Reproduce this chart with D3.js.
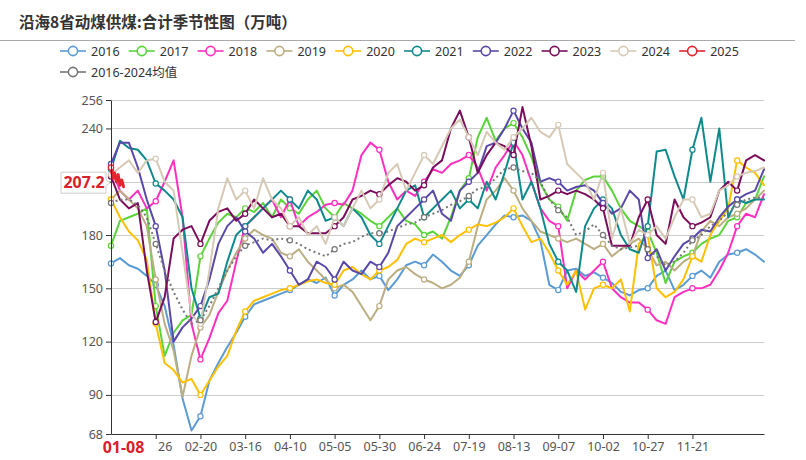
<!DOCTYPE html>
<html><head><meta charset="utf-8">
<script src="https://cdn.jsdelivr.net/npm/d3@7"></script>
<style>
body{margin:0;background:#fff;}
svg{display:block;font-family:"Noto Sans","Noto Sans CJK SC",sans-serif;}
</style>
</head><body>
<svg id="c" width="806" height="460"></svg>
<script>
// ---- data ----
const titleText = "沿海8省动煤供煤:合计季节性图（万吨）";
const seriesNames = ["2016","2017","2018","2019","2020","2021","2022","2023","2024","2025","2016-2024均值"];
const seriesColors = ["#5B9BD5","#5AD43A","#FF2FBF","#BBAE82","#FFC000","#0F8A8C","#5A48A8","#7A0D5C","#D6C9B6","#E3262D","#777777"];
// step-5 series: values at day index 0,5,10,...,365
const v2016 = [164,167,163,161,157,152,140,118,88,70,
 78,98,108,117,125,134,141,143,145,147,
 149,152,155,153,156,146,152,155,160,155,
 157,149,155,163,165,163,169,165,160,157,
 163,174,180,186,191,190,191,188,177,152,
 149,160,161,157,159,156,153,148,146,149,
 150,157,160,149,152,157,160,156,165,169,
 170,172,169,165];
const v2017 = [174,188,190,192,195,140,112,125,132,135,
 168,178,187,192,190,195,193,198,190,200,
 195,192,200,205,195,190,198,195,192,188,
 185,190,195,188,186,180,182,178,190,205,
 212,235,246,233,240,243,235,224,209,200,
 196,188,205,211,213,213,205,195,188,185,
 182,170,153,165,168,170,175,178,180,188,
 190,198,200,213];
const v2018 = [218,205,200,205,195,199,210,222,190,130,
 110,122,136,143,165,185,190,195,200,190,
 200,185,190,193,197,198,197,205,225,232,
 228,210,200,205,202,210,217,215,220,222,
 225,218,205,218,225,233,225,210,195,188,
 185,150,160,155,160,165,150,145,142,142,
 138,132,130,145,148,150,150,152,160,170,
 185,192,190,203];
const v2019 = [200,205,200,195,185,155,130,115,89,112,
 128,135,148,160,170,178,183,180,178,170,
 168,172,165,160,155,150,152,148,140,132,
 140,155,160,162,158,155,153,150,152,156,
 165,185,200,205,212,205,195,188,182,180,
 178,176,178,175,172,175,168,172,175,178,
 172,163,165,160,165,168,182,188,185,190,
 192,195,200,205];
const v2020 = [200,190,182,177,166,130,108,104,97,99,
 90,98,106,112,126,137,143,145,147,149,
 150,152,154,155,153,152,160,162,158,155,
 160,162,166,175,178,176,178,180,176,180,
 183,186,185,187,190,195,185,176,178,170,
 160,152,160,138,150,152,150,155,137,175,
 180,150,145,148,155,168,165,180,188,195,
 222,218,215,208];
const v2021 = [217,233,229,228,222,209,205,200,190,150,
 133,145,147,165,180,185,190,195,200,205,
 200,195,205,200,188,190,185,195,190,180,
 175,185,195,205,208,190,195,200,205,195,
 200,195,210,200,215,232,200,210,195,175,
 165,160,148,185,195,200,195,180,172,170,
 185,227,228,213,200,228,246,210,240,190,
 200,198,200,200];
const v2022 = [220,232,232,218,200,185,160,120,128,133,
 140,155,175,185,190,182,178,170,175,168,
 160,152,155,165,162,155,165,160,158,165,
 162,170,185,190,195,200,205,192,188,205,
 210,215,230,232,240,250,240,232,210,212,
 210,205,207,208,205,198,192,195,205,200,
 167,172,160,168,175,178,183,182,190,196,
 200,203,205,217];
const v2023 = [213,200,195,198,160,131,145,178,183,185,
 175,188,193,195,188,192,200,195,190,192,
 185,185,181,181,181,185,190,200,202,205,
 203,208,212,210,205,208,218,222,240,250,
 235,215,225,232,230,225,252,230,200,202,
 205,203,205,203,200,195,174,174,174,190,
 200,180,175,200,190,185,187,190,205,210,
 205,222,225,222];
const v2024 = [214,218,222,215,222,223,210,205,170,135,
 130,160,195,212,200,205,195,212,200,195,
 185,190,180,185,175,190,185,195,205,195,
 200,215,220,205,215,225,220,230,240,245,
 235,225,238,232,228,235,240,246,238,235,
 242,220,215,210,200,215,178,195,175,183,
 180,185,178,190,200,200,190,192,205,208,
 213,215,216,218];
// 2025: daily values 01-01 .. 01-08
const v2025 = [218,212,215,210,214,208,211,207.2];
const vAvg = [198,200,200,197,190,175,160,148,138,130,
 132,140,150,160,168,174,176,178,177,178,
 177,175,172,170,168,172,175,176,179,181,
 181,182,184,186,187,190,192,194,197,199,
 202,206,207,212,217,218,216,215,210,200,
 194,190,180,182,186,180,174,172,173,174,
 172,168,163,165,170,177,180,185,188,193,
 197,200,201,201];
const yTicks = [68,90,120,150,180,210,240,256];
const yTickLabels = ["68","90","120","150","180","","240","256"]; // 210 hidden under the pointer label
const xTickIndex = [25,50,75,100,125,150,175,200,225,250,275,300,325];
const xTickLabels = ["26","02-20","03-16","04-10","05-05","05-30","06-24","07-19","08-13","09-07","10-02","10-27","11-21"]; // "01-" of 01-26 hidden under pointer label
const pointerIndex = 7, pointerDate = "01-08", pointerValue = 207.2;

// ---- drawing ----
const svg = d3.select("#c");
const x = d3.scaleLinear().domain([0,365]).range([111,764]);
const y = d3.scaleLinear().domain([68,256]).range([434,100]);

// title
svg.append("text").attr("x",19).attr("y",28).text(titleText)
  .attr("font-family","'Noto Sans CJK SC',sans-serif").attr("font-weight","bold")
  .attr("font-size",15.5).attr("fill","#333");
svg.append("line").attr("x1",0).attr("x2",795).attr("y1",40.5).attr("y2",40.5)
  .attr("stroke","#aaa").attr("stroke-width",1);

// legend
const leg = svg.append("g");
seriesNames.forEach((n,i)=>{
  const row = i<10?0:1, col = i<10?i:0;
  const gx = 60 + col*68.8, gy = row===0?51:72;
  const g = leg.append("g").attr("transform",`translate(${gx},${gy})`);
  g.append("line").attr("x1",0).attr("x2",26).attr("stroke",seriesColors[i]).attr("stroke-width",1.6);
  g.append("circle").attr("cx",13).attr("r",4.6).attr("fill","#fff").attr("stroke",seriesColors[i]).attr("stroke-width",1.6);
  g.append("text").attr("x",31).attr("dy","0.36em").text(n).attr("font-size",12.5)
    .attr("fill","#333").attr("font-family","'Noto Sans','Noto Sans CJK SC',sans-serif");
});

// grid
svg.append("g").selectAll("line").data(yTicks.filter(t=>t>68)).join("line")
  .attr("x1",111).attr("x2",764).attr("y1",d=>Math.round(y(d))+0.5).attr("y2",d=>Math.round(y(d))+0.5)
  .attr("stroke","#ccc").attr("stroke-width",1);

// series
const seriesData = [v2016,v2017,v2018,v2019,v2020,v2021,v2022,v2023,v2024,v2025,vAvg];
const steps = [5,5,5,5,5,5,5,5,5,1,5];
const plot = svg.append("g");
const drawOrder = [0,1,2,3,4,5,6,7,8,10,9];
drawOrder.forEach(si=>{
  const vals = seriesData[si], st = steps[si];
  const pts = vals.map((v,i)=>({i:i*st,v}));
  const line = d3.line().x(d=>x(d.i)).y(d=>y(d.v));
  const p = plot.append("path").datum(pts).attr("d",line).attr("fill","none")
    .attr("stroke",seriesColors[si]).attr("stroke-width",si===9?3:2)
    .attr("stroke-linejoin","round").attr("stroke-linecap","round");
  if(si===10) p.attr("stroke-dasharray","2,3").attr("stroke-linecap","butt");
  plot.append("g").selectAll("circle").data(pts.filter(d=>d.i%25===0)).join("circle")
    .attr("cx",d=>x(d.i)).attr("cy",d=>y(d.v)).attr("r",2.6)
    .attr("fill","#fff").attr("stroke",seriesColors[si]).attr("stroke-width",1.2);
});

// axes
const yAxis = svg.append("g").attr("transform","translate(111,0)")
  .call(d3.axisLeft(y).tickValues(yTicks).tickFormat((d,i)=>yTickLabels[i]).tickSize(5).tickPadding(3).tickSizeOuter(0));
yAxis.select(".domain").attr("stroke","#333");
yAxis.selectAll(".tick line").attr("stroke","#333");
yAxis.selectAll(".tick text").attr("font-size",12.5).attr("fill","#555")
  .attr("font-family","'Noto Sans',sans-serif");

const xAxis = svg.append("g").attr("transform","translate(0,434)")
  .call(d3.axisBottom(x).tickValues(xTickIndex).tickFormat((d,i)=>xTickLabels[i]).tickSize(5).tickPadding(3).tickSizeOuter(0));
xAxis.select(".domain").attr("stroke","#333");
xAxis.selectAll(".tick line").attr("stroke","#333");
xAxis.selectAll(".tick text").attr("font-size",12.5).attr("fill","#555")
  .attr("font-family","'Noto Sans',sans-serif");
// the first label shows only its day part, sitting where it does in "01-26"
xAxis.select(".tick text").attr("dx",9);

// x pointer label
const xp = svg.append("g");
xp.append("text").attr("x",x(pointerIndex)).attr("y",453).attr("text-anchor","middle")
  .text(pointerDate).attr("font-size",16).attr("font-weight","bold").attr("fill","#D9202A")
  .attr("font-family","'Noto Sans',sans-serif");

// y pointer label
const yp = svg.append("g");
const py = y(pointerValue)-4;
yp.append("path").attr("d",`M61,${py-10.5} H106 V${py-3} L110,${py} L106,${py+3} V${py+10.5} H61 Z`)
  .attr("fill","#fff").attr("stroke","#ccc").attr("stroke-width",1);
yp.append("text").attr("x",84).attr("y",py).attr("dy","0.36em").attr("text-anchor","middle")
  .text(pointerValue.toFixed(1)).attr("font-size",16).attr("font-weight","bold").attr("fill","#D9202A")
  .attr("font-family","'Noto Sans',sans-serif");
</script>
</body></html>
